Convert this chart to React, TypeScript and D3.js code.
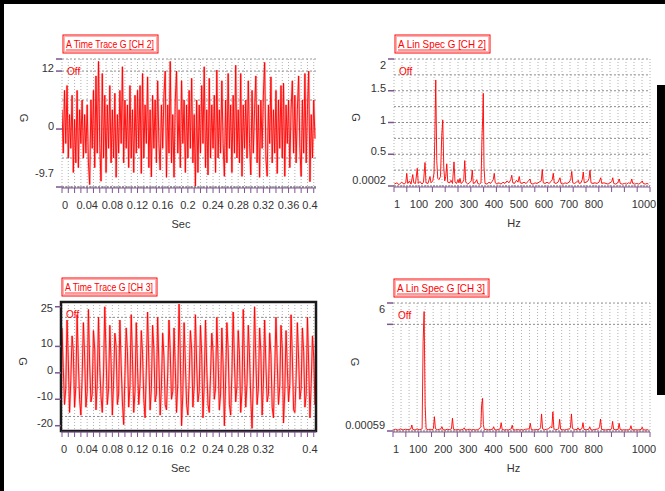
import React from 'react';
import * as d3 from 'd3';

// CH 2 acceleration trace (G), one sample every 2 ms
const ch2Time = [
  4, -5, 8, -3, 9, -6, 3, -4, 7, -9, 2, -7, 8, -8, 4, -3, 6, -6, 3, -5,
  5, -7, -11.5, 6, -4, 8, -8, 11, -5, 14, -3, -10.8, 11.5, -6, 7, -9, 5, -4, 9, -7,
  4, -6, 7.4, -10, 3, -5, 8, -3, 12.9, -7, 6, -4, 5, -8, 9, -6, 4, -9, 7, -5,
  8, -4, 9, -9.2, 11.5, -6, 5, -3, 10.8, -8, 4, -9.9, 7, -4, 6, -7, 10, -3, -8.5, 5,
  -4, 7, 12, -10, 5, -5, 14, -7, 3, -10, 6, 12, -5, 4, -8, 10, -3, 6, -9, 5,
  -6, 8, -4, 10.5, -7, 3, -11.8, 6, -9, 5, -5, 9, -3, 12.9, -8, 4, -9.5, 10.5, -6, 5,
  -4, 7, -9, 12.2, -6, 4, -5, 10, -3, -9.8, 6, -7, 11.5, -4, 5, -9, 7, -5, 13.2, -6,
  4, -7, 11.5, -9.8, 5, -4, 6, -6, 10, -3, -9.5, 8, -5, 4, 11, -7, 5, -10, 6, -4,
  7, 13.8, -6, -9.8, 5, -3, 10.8, -7, 4, -5, 8, -9.2, 6, -4, 9, -6, 9.5, -9.8, 5, -3,
  6, -8, 4, 10, -5, 7, -7, 4, 11, -4, -9.8, 6, -5, 11.5, -7, 4, 12, -10.9, 3, -6, 6, -2,
];

// CH 3 acceleration trace (G), one sample every 2 ms
const ch3Time = [
  17, 2, -12, -6, 20, 5, -15, -3, 14, 8, -13, -5, 22, 4, -10, -16, -2,
  19, 6, -13, -7, 24, 3, -11, -8, 16, 9, -14, -4, 21, 2, -9, -15, 0,
  25, 7, -12, -6, 18, 4, -16, -3, 15, 10, -12, -8, 20, 3, -11, -19.6, -1,
  17, 8, -13, -5, 22, 5, -15, -7, 19, 2, -12, -4, 16, 7, -10, -17, 1,
  23, 4, -14, -6, 18, 9, -11, -8, 21, 3, -16, -5, 15, 6, -12, -14, 0,
  20, 8, -10, -7, 17, 2, -15, -4, 26, 6, -20, -8, 19, 4, -12, -16, -3,
  16, 9, -13, -5, 22, 3, -11, -7, 18, 7, -17, -4, 20, 2, -12, -15, -1,
  15, 8, -10, -6, 21, 5, -14, -8, 17, 3, -20, -3, 19, 9, -12, -16, 0,
  23, 4, -11, -5, 16, 7, -15, -7, 24, 2, -13, -4, 18, 6, -10, -21, -2,
  25, 5, -12, -6, 17, 8, -16, -4, 20, 3, -11, -8, 15, 7, -13, -17, 1,
  21, 4, -12, -5, 18, 9, -19, -7, 16, 2, -11, -4, 22, 6, -14, -15, -2,
  19, 5, -10, -6, 17, 8, -13, -8, 21, 3, -17, -4, 14, 6, -12, -9, 2,
];
const dt = 0.002;

// linear spectra [Hz, G]
const ch2Spec: [number, number][] = [
  [1, 0.03], [12, 0.05], [20, 0.02], [30, 0.06], [40, 0.03], [47, 0.05], [51, 0.2], [55, 0.04],
  [62, 0.08], [68, 0.03], [75, 0.18], [79, 0.05], [86, 0.04], [93, 0.28], [97, 0.04], [104, 0.07],
  [112, 0.03], [118, 0.06], [124, 0.37], [128, 0.05], [136, 0.04], [144, 0.15], [148, 0.05],
  [155, 0.08], [160, 0.2], [163, 0.7], [167, 1.67], [171, 0.4], [175, 0.12], [180, 0.1],
  [186, 0.15], [191, 0.8], [195, 1.04], [199, 0.3], [203, 0.08], [207, 0.15], [211, 0.35],
  [215, 0.06], [222, 0.05], [228, 0.09], [234, 0.04], [240, 0.38], [244, 0.06], [250, 0.04],
  [256, 0.1], [260, 0.05], [264, 0.12], [268, 0.04], [275, 0.06], [279, 0.1], [283, 0.4],
  [287, 0.06], [295, 0.03], [302, 0.05], [309, 0.08], [313, 0.25], [317, 0.04], [324, 0.05],
  [331, 0.1], [335, 0.04], [342, 0.03], [348, 0.05], [352, 0.78], [355, 1.1], [357, 1.46],
  [360, 0.3], [364, 0.04], [372, 0.03], [380, 0.06], [386, 0.04], [392, 0.07], [397, 0.1],
  [401, 0.2], [405, 0.05], [412, 0.03], [420, 0.05], [428, 0.03], [436, 0.06], [444, 0.04],
  [452, 0.08], [460, 0.05], [467, 0.1], [471, 0.17], [475, 0.05], [482, 0.04], [490, 0.09],
  [496, 0.06], [501, 0.15], [505, 0.05], [512, 0.04], [520, 0.06], [528, 0.04], [536, 0.07],
  [544, 0.11], [548, 0.04], [556, 0.03], [564, 0.05], [572, 0.04], [580, 0.06], [589, 0.08],
  [593, 0.26], [597, 0.05], [605, 0.04], [612, 0.06], [620, 0.04], [628, 0.07], [633, 0.1],
  [637, 0.2], [641, 0.05], [648, 0.04], [656, 0.06], [664, 0.13], [668, 0.04], [676, 0.03],
  [684, 0.05], [692, 0.04], [700, 0.06], [707, 0.1], [711, 0.23], [715, 0.05], [722, 0.04],
  [730, 0.06], [737, 0.09], [741, 0.04], [748, 0.05], [753, 0.1], [757, 0.22], [761, 0.05],
  [768, 0.06], [776, 0.08], [780, 0.12], [784, 0.25], [788, 0.05], [796, 0.04], [804, 0.05],
  [812, 0.04], [820, 0.06], [827, 0.13], [831, 0.04], [840, 0.05], [848, 0.04], [856, 0.03],
  [864, 0.05], [871, 0.07], [875, 0.13], [879, 0.04], [887, 0.03], [895, 0.05], [901, 0.11],
  [905, 0.04], [913, 0.03], [922, 0.04], [930, 0.03], [938, 0.05], [946, 0.04], [951, 0.11],
  [955, 0.04], [963, 0.03], [971, 0.04], [979, 0.03], [987, 0.05], [993, 0.08], [997, 0.04],
  [1005, 0.03], [1012, 0.04], [1018, 0.03],
];

const ch3Spec: [number, number][] = [
  [1, 0.05], [10, 0.08], [20, 0.04], [30, 0.1], [40, 0.05], [50, 0.08], [60, 0.06], [71, 0.1],
  [75, 0.28], [79, 0.07], [88, 0.05], [96, 0.1], [104, 0.06], [112, 0.08], [116, 0.1],
  [120, 4.2], [124, 5.6], [128, 1.2], [132, 0.1], [140, 0.06], [148, 0.08], [156, 0.05],
  [161, 0.12], [165, 0.67], [169, 0.1], [177, 0.06], [186, 0.08], [191, 0.1], [195, 0.2],
  [199, 0.06], [208, 0.05], [216, 0.08], [224, 0.06], [233, 0.1], [237, 0.6], [241, 0.08],
  [250, 0.05], [258, 0.07], [266, 0.05], [275, 0.06], [280, 0.08], [284, 0.15], [288, 0.05],
  [296, 0.06], [304, 0.08], [312, 0.05], [320, 0.07], [328, 0.05], [336, 0.06], [344, 0.1],
  [350, 0.2], [353, 1.2], [357, 1.53], [360, 0.3], [364, 0.06], [372, 0.08], [380, 0.05],
  [388, 0.07], [397, 0.08], [401, 0.2], [405, 0.06], [414, 0.05], [422, 0.08], [427, 0.1],
  [431, 0.39], [435, 0.07], [444, 0.05], [452, 0.06], [460, 0.05], [467, 0.08], [471, 0.1],
  [475, 0.27], [479, 0.06], [488, 0.05], [496, 0.07], [504, 0.05], [512, 0.06], [520, 0.05],
  [528, 0.08], [543, 0.1], [547, 0.36], [551, 0.07], [560, 0.05], [568, 0.07], [576, 0.06],
  [584, 0.09], [588, 0.15], [592, 0.8], [596, 0.1], [604, 0.06], [612, 0.08], [620, 0.1],
  [627, 0.2], [633, 0.15], [637, 0.9], [641, 0.1], [648, 0.06], [656, 0.08], [660, 0.1],
  [664, 0.55], [668, 0.08], [676, 0.06], [684, 0.05], [692, 0.07], [703, 0.1], [707, 0.15],
  [711, 0.8], [715, 0.12], [724, 0.06], [733, 0.07], [737, 0.15], [741, 0.06], [749, 0.08],
  [753, 0.12], [757, 0.39], [761, 0.07], [770, 0.06], [780, 0.08], [784, 0.2], [788, 0.06],
  [796, 0.05], [804, 0.07], [819, 0.1], [823, 0.2], [827, 0.56], [831, 0.08], [840, 0.06],
  [848, 0.05], [856, 0.07], [864, 0.06], [871, 0.1], [875, 0.45], [879, 0.08], [888, 0.06],
  [897, 0.08], [901, 0.36], [905, 0.07], [914, 0.05], [922, 0.06], [930, 0.05], [938, 0.06],
  [944, 0.08], [948, 0.25], [952, 0.06], [960, 0.05], [968, 0.06], [976, 0.05], [984, 0.06],
  [989, 0.08], [993, 0.18], [997, 0.06], [1005, 0.05], [1012, 0.06], [1018, 0.05],
];

// tick labels
const secTicks2 = [0, 0.04, 0.08, 0.12, 0.16, 0.2, 0.24, 0.28, 0.32, 0.36, 0.4];
const secTicks3 = [0, 0.04, 0.08, 0.12, 0.16, 0.2, 0.24, 0.28, 0.32, 0.4];
const hzTicks = [1, 100, 200, 300, 400, 500, 600, 700, 800, 1000];
const gTicksTime2 = [12, 0, -9.7];
const gTicksTime3 = [25, 10, 0, -10, -20];
const gTicksSpec2 = [2, 1.5, 1, 0.5, 0.0002];
const gTicksSpec3 = [6, 0.00059];

const FONT = '"Liberation Sans", Arial, sans-serif';
const RED = '#ff0000';
const PURPLE = '#7d5590';

type Frame = { x0: number; x1: number; y0: number; y1: number };

type PanelProps = {
  id: string;
  frame: Frame;
  x: d3.ScaleLinear<number, number>;
  y: d3.ScaleLinear<number, number>;
  data: [number, number][];
  title: string;
  xTicks: number[];
  xGrid: number[];
  xMinor: number[];
  yTicks: number[];
  yGrid: number[];
  yMinor: number[];
  unit: string;
  boxed?: boolean;
  halo?: boolean;
};

function Panel(p: PanelProps) {
  const { frame: f, x, y } = p;
  const line = d3.line<[number, number]>().x(d => x(d[0])).y(d => y(d[1]));
  const clamp = (v: number, lo: number, hi: number) => Math.max(lo, Math.min(hi, v));
  const midX = (f.x0 + f.x1) / 2;
  const d = line(p.data) ?? '';
  return (
    <g fontFamily={FONT}>
      <defs>
        <clipPath id={p.id}>
          <rect x={f.x0} y={f.y0} width={f.x1 - f.x0} height={f.y1 - f.y0} />
        </clipPath>
      </defs>
      {/* title box */}
      <rect x={f.x0 + 1} y={f.y0 - 24} width={95} height={18} fill="none" stroke={RED} strokeWidth={1} />
      <rect x={f.x0 + 2.5} y={f.y0 - 22.5} width={92} height={15} fill="none" stroke="#ffb0b0" strokeWidth={1} />
      <text x={f.x0 + 4} y={f.y0 - 11} fill={RED} fontSize={11} textLength={88} lengthAdjust="spacingAndGlyphs">{p.title}</text>
      <line x1={f.x0 + 4} x2={f.x0 + 92} y1={f.y0 - 9} y2={f.y0 - 9} stroke={RED} strokeWidth={0.8} />

      {/* grid */}
      {p.xGrid.map((v, i) => (
        <line key={'xg' + i} x1={x(v)} x2={x(v)} y1={f.y0} y2={f.y1} stroke="#b0b0b0" strokeDasharray="1,2" />
      ))}
      <line x1={f.x0} x2={f.x1} y1={f.y0} y2={f.y0} stroke="#999" strokeDasharray="2,2" />
      {p.yGrid.map((v, i) => (
        <line key={'yg' + i} x1={f.x0} x2={f.x1} y1={y(v)} y2={y(v)} stroke="#8c8c8c" strokeDasharray="2,2" />
      ))}
      <line x1={f.x0} x2={f.x1} y1={f.y1} y2={f.y1} stroke="#666" strokeDasharray="2,1" />

      {/* trace */}
      {p.halo && (
        <path d={d} fill="none" stroke="#ff8c8c" strokeWidth={2.4} strokeOpacity={0.55} clipPath={`url(#${p.id})`} />
      )}
      <path d={d} fill="none" stroke={RED} strokeWidth={1} strokeOpacity={0.9} clipPath={`url(#${p.id})`} />

      {p.boxed && (
        <rect x={f.x0} y={f.y0} width={f.x1 - f.x0} height={f.y1 - f.y0} fill="none" stroke="#1a1a1a" strokeWidth={2.5} />
      )}

      {/* purple ticks */}
      {p.xMinor.map((v, i) => (
        <line key={'xm' + i} x1={x(v)} x2={x(v)} y1={f.y1 + 1} y2={f.y1 + 6} stroke={PURPLE} strokeWidth={1} />
      ))}
      <line x1={f.x0} x2={f.x1} y1={f.y1 + 1} y2={f.y1 + 1} stroke={PURPLE} strokeWidth={1} />
      {p.yMinor.map((v, i) => (
        <line key={'ym' + i} x1={f.x0 - 6} x2={f.x0} y1={y(v)} y2={y(v)} stroke={PURPLE} strokeWidth={1.5} />
      ))}

      {/* tick labels */}
      {p.xTicks.map((v, i) => (
        <text key={'xt' + i} x={clamp(x(v), f.x0 + 3, f.x1 - 6)} y={f.y1 + 22} textAnchor="middle" fontSize={11} fill="#333">
          {String(v)}
        </text>
      ))}
      {p.yTicks.map((v, i) => (
        <text key={'yt' + i} x={f.x0 - 8} y={clamp(y(v) - 3, f.y0 + 6, f.y1 - 6) + 4} textAnchor="end" fontSize={11} fill="#333">
          {String(v)}
        </text>
      ))}
      <text x={midX - 8} y={f.y1 + 41} textAnchor="middle" fontSize={11} fill="#333">{p.unit}</text>
      <text transform={`translate(${f.x0 - 42},${(f.y0 + f.y1) / 2 - 5}) rotate(90)`} textAnchor="middle" fontSize={11} fill="#333">G</text>
      <text x={f.x0 + 5} y={f.y0 + 16} fontSize={10} fill={RED}>Off</text>
    </g>
  );
}

export default function App() {
  const tl: Frame = { x0: 62, x1: 316, y0: 59, y1: 187 };
  const tr: Frame = { x0: 394, x1: 650, y0: 59, y1: 186 };
  const bl: Frame = { x0: 61, x1: 316, y0: 302, y1: 431 };
  const br: Frame = { x0: 393, x1: 650, y0: 303, y1: 431 };

  const xSecTop = d3.scaleLinear().domain([0, 0.4036]).range([tl.x0, tl.x1]);
  const xSecBot = d3.scaleLinear().domain([0, 0.4036]).range([bl.x0 + 1, bl.x1]);
  const xHzTop = d3.scaleLinear().domain([0, 1024]).range([tr.x0, tr.x1]);
  const xHzBot = d3.scaleLinear().domain([0, 1024]).range([br.x0, br.x1]);

  const yTime2 = d3.scaleLinear().domain([-12, 14.5]).range([tl.y1, tl.y0]);
  const ySpec2 = d3.scaleLinear().domain([0, 2]).range([tr.y1, tr.y0]);
  const yTime3 = d3.scaleLinear().domain([-22, 26.8]).range([bl.y1, bl.y0]);
  const ySpec3 = d3.scaleLinear().domain([0, 6]).range([br.y1, br.y0]);

  const secGrid = d3.range(0, 0.4001, 0.01);
  const hzGrid = d3.range(0, 1025, 32);
  const hzMinor = d3.range(0, 1025, 51.2);

  const trace2: [number, number][] = ch2Time.map((v, i) => [i * dt, v]);
  const trace3: [number, number][] = ch3Time.map((v, i) => [i * dt, v]);

  return (
    <svg width={665} height={491} style={{ position: 'absolute', left: 0, top: 0, background: '#fff' }}>
      <rect x={0} y={0} width={665} height={4} fill="#000" />
      <rect x={0} y={0} width={4} height={491} fill="#000" />
      <rect x={657} y={85} width={8} height={310} fill="#000" />

      <Panel id="c1" frame={tl} x={xSecTop} y={yTime2} data={trace2} title="A Time Trace G [CH 2]"
        xTicks={secTicks2} xGrid={secGrid} xMinor={secGrid} yTicks={gTicksTime2}
        yGrid={[-12, -6, 0, 6, 12]} yMinor={[14.5, 12, 0, -12]} unit="Sec" halo />
      <Panel id="c2" frame={tr} x={xHzTop} y={ySpec2} data={ch2Spec} title="A Lin Spec G [CH 2]"
        xTicks={hzTicks} xGrid={hzGrid} xMinor={hzMinor} yTicks={gTicksSpec2}
        yGrid={[0.25, 0.5, 0.75, 1, 1.25, 1.5, 1.75]} yMinor={[2, 1.5, 1, 0.5, 0]} unit="Hz" />
      <Panel id="c3" frame={bl} x={xSecBot} y={yTime3} data={trace3} title="A Time Trace G [CH 3]"
        xTicks={secTicks3} xGrid={secGrid} xMinor={secGrid} yTicks={gTicksTime3}
        yGrid={[21, 10, -5.5, -16.5]} yMinor={[25, 10, 0, -10, -20]} unit="Sec" boxed halo />
      <Panel id="c4" frame={br} x={xHzBot} y={ySpec3} data={ch3Spec} title="A Lin Spec G [CH 3]"
        xTicks={hzTicks} xGrid={hzGrid} xMinor={hzMinor} yTicks={gTicksSpec3}
        yGrid={[5]} yMinor={[6, 5, 0]} unit="Hz" />
    </svg>
  );
}
